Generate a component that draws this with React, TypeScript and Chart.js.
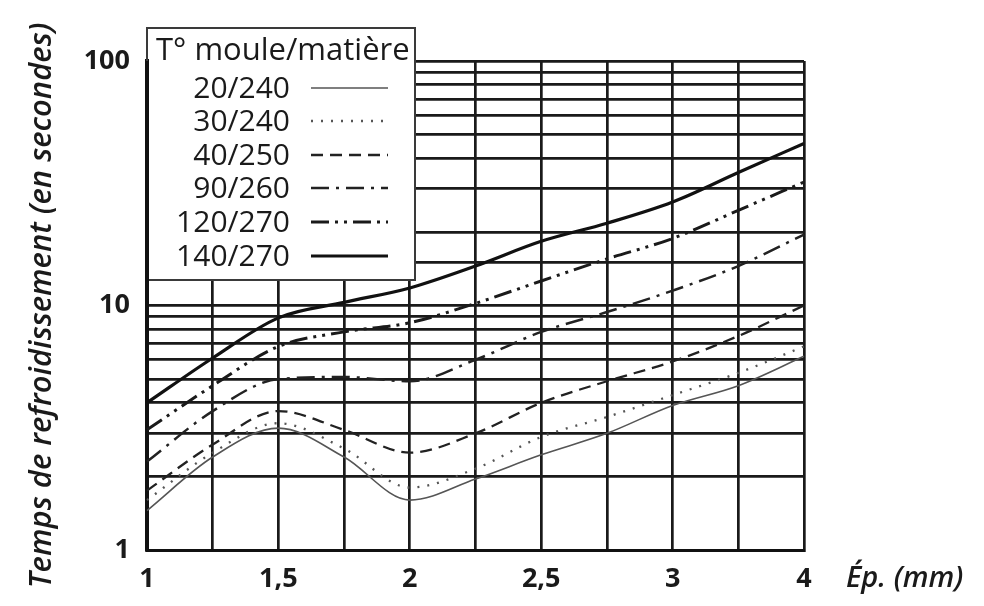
import React, { useEffect, useRef } from "react";
import { Chart, registerables } from "chart.js";

Chart.register(...registerables);

// Thickness categories (mm) – the original axis jumps from 3 to 4 in two steps
const xLabels = ["1", "1,25", "1,5", "1,75", "2", "2,25", "2,5", "2,75", "3", "3,5", "4"];
const shownXLabels = ["1", "1,5", "2", "2,5", "3", "4"];
const yTickLabels = [1, 10, 100];

const seriesNames = ["20/240", "30/240", "40/250", "90/260", "120/270", "140/270"];
const s20_240 = [1.45, 2.4, 3.15, 2.4, 1.6, 1.95, 2.45, 3.0, 3.9, 4.7, 6.2];
const s30_240 = [1.6, 2.5, 3.3, 2.6, 1.8, 2.15, 2.9, 3.5, 4.3, 5.3, 6.8];
const s40_250 = [1.75, 2.7, 3.7, 3.1, 2.5, 3.0, 4.0, 4.9, 5.9, 7.5, 10];
const s90_260 = [2.3, 3.7, 5.0, 5.1, 4.9, 6.0, 7.8, 9.4, 11.5, 14.5, 19.5];
const s120_270 = [3.1, 4.7, 6.8, 7.8, 8.5, 10.2, 12.6, 15.5, 18.8, 24.5, 32];
const s140_270 = [4.0, 6.1, 8.9, 10.3, 11.8, 14.5, 18.3, 21.7, 26.5, 35, 46];

const legendTitle = "T° moule/matière";
const yTitle = "Temps de refroidissement (en secondes)";
const xTitle = "Ép. (mm)";

const FONT = "'Open Sans', 'DejaVu Sans', sans-serif";

const styles = [
  { color: "#555", width: 1.6, dash: [] as number[] },
  { color: "#555", width: 2.3, dash: [2, 8] },
  { color: "#222", width: 2.3, dash: [12, 7] },
  { color: "#222", width: 2.5, dash: [18, 7, 3, 7] },
  { color: "#1a1a1a", width: 3, dash: [18, 6, 3, 6, 3, 6] },
  { color: "#111", width: 3.2, dash: [] as number[] },
];

const legendPlugin = {
  id: "boxLegend",
  afterDraw(chart: any) {
    const ctx = chart.ctx;
    const area = chart.chartArea;
    const left = area.left;
    const top = 28;
    const right = 415;
    const bottom = 280;
    ctx.save();
    ctx.fillStyle = "#fff";
    ctx.fillRect(left + 2, top, right - left - 2, bottom - top);
    ctx.strokeStyle = "#3a3a3a";
    ctx.lineWidth = 2;
    ctx.setLineDash([]);
    ctx.beginPath();
    ctx.moveTo(left, area.top);
    ctx.lineTo(left, top);
    ctx.lineTo(right, top);
    ctx.lineTo(right, bottom);
    ctx.lineTo(left, bottom);
    ctx.stroke();
    // restore thick axis segment
    ctx.lineWidth = 4;
    ctx.strokeStyle = "#111";
    ctx.beginPath();
    ctx.moveTo(left, area.top);
    ctx.lineTo(left, bottom + 2);
    ctx.stroke();

    ctx.fillStyle = "#1a1a1a";
    ctx.textBaseline = "middle";
    ctx.font = `31px ${FONT}`;
    ctx.textAlign = "left";
    ctx.fillText(legendTitle, 156, 51);

    ctx.font = `30px ${FONT}`;
    ctx.textAlign = "right";
    const rowY = [88, 121, 155, 188, 222, 256];
    chart.data.datasets.forEach((ds: any, i: number) => {
      const y = rowY[i];
      ctx.fillStyle = "#1a1a1a";
      ctx.fillText(ds.label, 290, y + 1);
      ctx.strokeStyle = ds.borderColor;
      ctx.lineWidth = ds.borderWidth;
      ctx.setLineDash(ds.borderDash || []);
      ctx.beginPath();
      ctx.moveTo(311, y);
      ctx.lineTo(388, y);
      ctx.stroke();
    });
    ctx.setLineDash([]);

    // x axis title at the right of the last tick
    ctx.font = `italic 600 29px ${FONT}`;
    ctx.textAlign = "left";
    ctx.fillStyle = "#1a1a1a";
    ctx.fillText(xTitle, 846, 579);
    ctx.restore();
  },
};

export default function App() {
  const ref = useRef<HTMLCanvasElement | null>(null);

  useEffect(() => {
    if (!ref.current) return;
    const values = [s20_240, s30_240, s40_250, s90_260, s120_270, s140_270];
    const chart = new Chart(ref.current, {
      type: "line",
      data: {
        labels: xLabels,
        datasets: seriesNames.map((name, i) => ({
          label: name,
          data: values[i],
          borderColor: styles[i].color,
          borderWidth: styles[i].width,
          borderDash: styles[i].dash,
          pointRadius: 0,
          fill: false,
          cubicInterpolationMode: "monotone" as const,
        })),
      },
      options: {
        animation: false,
        responsive: false,
        layout: { padding: { top: 61, right: 180, left: 0, bottom: 0 } },
        plugins: { legend: { display: false }, tooltip: { enabled: false } },
        scales: {
          x: {
            type: "category",
            offset: false,
            grid: { color: "#1a1a1a", lineWidth: 2.7, drawTicks: false, offset: false },
            border: { color: "#111", width: 3 },
            ticks: {
              autoSkip: false,
              maxRotation: 0,
              padding: 13,
              color: "#1a1a1a",
              font: { family: FONT, size: 27, weight: "bold" },
              callback: function (this: any, value: any) {
                const lab = xLabels[value as number];
                return shownXLabels.includes(lab) ? lab : "";
              },
            },
            afterFit: (scale: any) => {
              scale.height = 56;
            },
          },
          y: {
            type: "logarithmic",
            min: 1,
            max: 100,
            grid: { color: "#1a1a1a", lineWidth: 2.7, drawTicks: false },
            border: { color: "#111", width: 4 },
            ticks: {
              autoSkip: false,
              padding: 17,
              color: "#1a1a1a",
              font: { family: FONT, size: 27, weight: "bold" },
              callback: (value: any) => (yTickLabels.includes(Number(value)) ? String(value) : ""),
            },
            title: {
              display: true,
              text: yTitle,
              color: "#1a1a1a",
              font: { family: FONT, size: 31, style: "italic", weight: "600" },
              padding: { top: 24, bottom: 0 },
            },
            afterFit: (scale: any) => {
              scale.width = 147;
            },
          },
        },
      },
      plugins: [legendPlugin],
    });
    return () => chart.destroy();
  }, []);

  return (
    <div style={{ position: "fixed", left: 0, top: 0, width: 984, height: 606, background: "#fff" }}>
      <canvas ref={ref} width={984} height={606} />
    </div>
  );
}
